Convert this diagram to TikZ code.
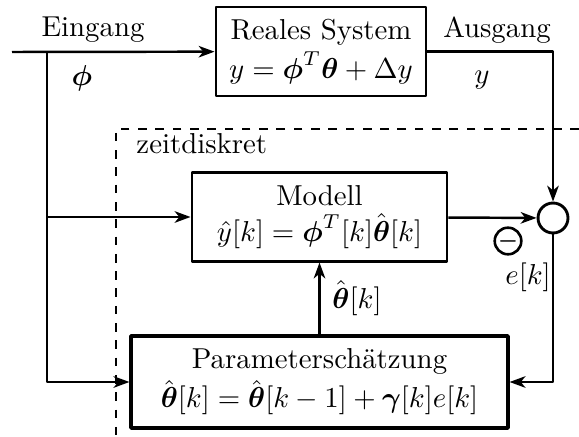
\documentclass[tikz,border=0pt]{standalone}
\usepackage{amsmath}
\usetikzlibrary{arrows.meta}
\begin{document}
\begin{tikzpicture}[>={Stealth[length=5.5pt,width=4pt,inset=1.6pt]},line join=bevel,
  x=0.347pt,y=-0.347pt,
  blockbox/.style={draw,line width=1pt,align=center,inner sep=2pt},
  sig/.style={line width=0.85pt},
  label/.style={draw=none,inner sep=1pt}]
\useasboundingbox (0,0) rectangle (579,437);
%%
\node (node_system) at (321,51.5) [blockbox,minimum width=72.9pt,minimum height=30.9pt] {Reales System\\[1.5pt]$y=\boldsymbol{\phi}^T\boldsymbol{\theta}+\Delta y$};
  \node (node_model) at (319.5,217) [blockbox,minimum width=88.5pt,minimum height=30.6pt] {Modell\\[0.5pt]$\hat{y}[k]=\boldsymbol{\phi}^T[k]\hat{\boldsymbol{\theta}}[k]$};
  \node (node_estim) at (319.5,382) [blockbox,line width=1.3pt,minimum width=130.6pt,minimum height=32pt] {Parameterschätzung\\[1.5pt]$\hat{\boldsymbol{\theta}}[k]=\hat{\boldsymbol{\theta}}[k-1]+\boldsymbol{\gamma}[k]e[k]$};
  \node (node_sum) at (553,218) [circle,draw,line width=1pt,minimum size=10.4pt,inner sep=0pt] {};
  \node (node_minus) at (508,241) [circle,draw,line width=0.9pt,minimum size=7pt,inner sep=0pt] {\scriptsize$\boldsymbol{-}$};
  \coordinate (node_in) at (12,52);
  \coordinate (node_split) at (47,52);
%
  \node (node_eingang) at (93,30) [label] {Eingang};
  \node (node_phi) at (82,78) [label] {$\boldsymbol{\phi}$};
  \node (node_ausgang) at (497,30) [label] {Ausgang};
  \node (node_y) at (482,80) [label] {$y$};
  \node (node_zeit) at (133,154) [label,anchor=base west] {zeitdiskret};
  \node (node_theta) at (357,298) [label] {$\hat{\boldsymbol{\theta}}[k]$};
  \node (node_e) at (528,277) [label] {$e[k]$};
%
  \draw [dashed,line width=0.55pt] (579,129) -- (116,129) -- (116,437);
  \draw [sig,->] (node_in) -- (node_system);
  \draw [sig,->] (node_split) |- (node_model);
  \draw [sig,->] (node_split) |- (node_estim);
  \draw [sig,->] (node_system) -| (node_sum);
  \draw [sig,->] (node_model) -- (node_sum);
  \draw [sig,->] (node_sum) |- (node_estim);
  \draw [sig,->] (node_estim) -- (node_model);
%
\end{tikzpicture}
\end{document}
